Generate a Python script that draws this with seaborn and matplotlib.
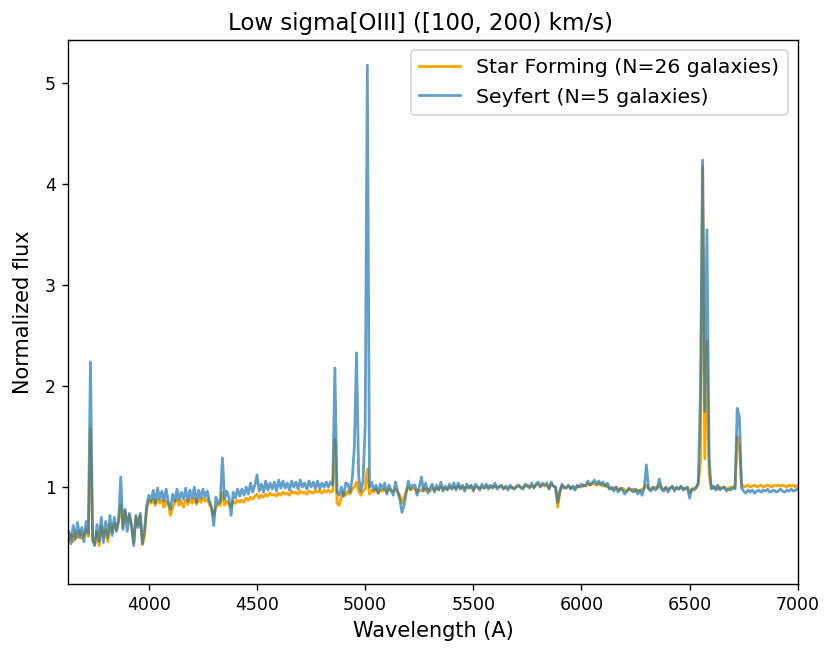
import matplotlib
matplotlib.use("Agg")
import matplotlib.pyplot as plt
import pandas as pd
import seaborn as sns

# Stacked spectra resampled on a 10 Angstrom rest-frame grid
wavelength = list(range(3630, 7001, 10))

# Each row holds ten bins; the comment gives the first wavelength of the row
flux_star_forming = [
    0.48, 0.53, 0.46, 0.55, 0.50, 0.57, 0.49, 0.54, 0.58, 0.51,  # 3630
    1.58, 0.50, 0.44, 0.56, 0.42, 0.62, 0.50, 0.58, 0.46, 0.63,  # 3730
    0.55, 0.64, 0.58, 0.68, 0.82, 0.60, 0.76, 0.66, 0.72, 0.60,  # 3830
    0.45, 0.70, 0.62, 0.72, 0.43, 0.52, 0.78, 0.87, 0.84, 0.88,  # 3930
    0.82, 0.88, 0.84, 0.87, 0.80, 0.86, 0.83, 0.72, 0.80, 0.85,  # 4030
    0.88, 0.82, 0.86, 0.80, 0.87, 0.83, 0.88, 0.84, 0.89, 0.83,  # 4130
    0.88, 0.85, 0.89, 0.86, 0.88, 0.83, 0.78, 0.72, 0.80, 0.83,  # 4230
    0.82, 0.95, 0.82, 0.86, 0.83, 0.80, 0.86, 0.84, 0.87, 0.85,  # 4330
    0.87, 0.85, 0.89, 0.87, 0.90, 0.88, 0.91, 0.93, 0.89, 0.92,  # 4430
    0.90, 0.93, 0.91, 0.94, 0.92, 0.93, 0.91, 0.94, 0.92, 0.95,  # 4530
    0.93, 0.94, 0.92, 0.96, 0.94, 0.95, 0.93, 0.96, 0.94, 0.95,  # 4630
    0.93, 0.96, 0.95, 0.94, 0.97, 0.95, 0.96, 0.94, 0.97, 0.95,  # 4730
    0.97, 0.95, 0.96, 1.47, 0.84, 0.82, 0.90, 0.95, 0.92, 0.96,  # 4830
    0.93, 0.98, 1.00, 1.05, 0.96, 0.92, 0.96, 0.98, 1.18, 0.93,  # 4930
    0.97, 0.95, 0.98, 0.94, 0.97, 0.96, 0.98, 0.95, 0.98, 0.96,  # 5030
    0.96, 0.98, 0.95, 0.92, 0.84, 0.90, 0.96, 1.00, 0.97, 0.99,  # 5130
    0.98, 0.95, 0.97, 0.96, 0.99, 0.97, 0.98, 0.96, 0.99, 0.97,  # 5230
    0.99, 0.98, 1.00, 0.98, 0.99, 0.98, 1.00, 0.99, 1.00, 0.99,  # 5330
    1.01, 0.99, 1.00, 0.98, 1.00, 0.99, 1.01, 0.98, 1.00, 1.00,  # 5430
    0.99, 1.00, 0.99, 1.00, 1.01, 1.00, 1.00, 1.01, 1.00, 1.00,  # 5530
    1.00, 0.99, 1.00, 0.99, 1.00, 1.00, 0.99, 1.00, 1.01, 1.00,  # 5630
    1.00, 1.01, 1.02, 1.00, 1.01, 1.00, 1.02, 1.03, 1.01, 1.02,  # 5730
    1.01, 1.02, 0.99, 1.03, 1.01, 1.00, 0.80, 0.95, 1.01, 1.00,  # 5830
    1.00, 1.01, 0.99, 1.00, 0.99, 1.00, 1.01, 1.00, 1.02, 1.01,  # 5930
    1.03, 1.02, 1.04, 1.03, 1.02, 1.03, 1.04, 1.01, 1.02, 1.00,  # 6030
    0.99, 0.98, 0.99, 1.00, 0.97, 0.98, 0.99, 0.97, 0.96, 0.98,  # 6130
    0.97, 0.98, 0.96, 0.97, 0.96, 0.98, 0.99, 1.02, 0.98, 0.98,  # 6230
    0.99, 1.00, 0.99, 1.02, 0.99, 0.98, 0.99, 0.98, 0.99, 1.00,  # 6330
    0.98, 0.99, 0.98, 1.00, 0.99, 0.98, 0.99, 0.94, 0.98, 0.99,  # 6430
    1.00, 1.02, 1.25, 4.18, 1.28, 2.45, 1.12, 1.00, 0.99, 1.00,  # 6530
    0.98, 1.00, 0.99, 1.00, 0.98, 0.99, 1.00, 0.99, 1.00, 1.50,  # 6630
    1.40, 1.03, 1.00, 1.01, 1.02, 1.00, 1.01, 1.02, 1.00, 1.01,  # 6730
    1.02, 1.00, 1.01, 1.02, 1.01, 1.00, 1.02, 1.01, 1.02, 1.01,  # 6830
    1.02, 1.01, 1.00, 1.02, 1.01, 1.02, 1.00, 1.02,              # 6930
]

flux_seyfert = [
    0.56, 0.44, 0.62, 0.48, 0.65, 0.50, 0.60, 0.46, 0.66, 0.54,  # 3630
    2.24, 0.47, 0.42, 0.63, 0.46, 0.70, 0.45, 0.66, 0.50, 0.72,  # 3730
    0.52, 0.70, 0.56, 0.66, 1.10, 0.58, 0.78, 0.56, 0.74, 0.62,  # 3830
    0.42, 0.72, 0.60, 0.74, 0.44, 0.58, 0.82, 0.92, 0.86, 0.97,  # 3930
    0.84, 0.99, 0.88, 0.96, 0.86, 0.98, 0.85, 0.78, 0.93, 0.86,  # 4030
    0.98, 0.87, 0.95, 0.88, 0.99, 0.86, 0.97, 0.89, 1.00, 0.85,  # 4130
    0.97, 0.89, 0.98, 0.90, 0.96, 0.86, 0.80, 0.62, 0.90, 0.84,  # 4230
    0.86, 1.29, 0.88, 0.96, 0.90, 0.72, 0.95, 0.89, 0.98, 0.91,  # 4330
    0.98, 0.92, 1.00, 0.93, 1.04, 0.95, 1.02, 1.12, 0.96, 1.03,  # 4430
    0.95, 1.06, 0.97, 1.04, 0.98, 1.05, 0.96, 1.07, 0.99, 1.06,  # 4530
    0.99, 1.04, 0.97, 1.06, 1.00, 1.05, 0.98, 1.07, 1.00, 1.04,  # 4630
    0.98, 1.06, 1.00, 1.05, 0.99, 1.06, 0.98, 1.04, 1.00, 1.05,  # 4730
    1.00, 1.05, 1.02, 2.18, 0.95, 0.92, 1.00, 0.91, 1.04, 1.03,  # 4830
    0.95, 1.08, 1.40, 2.33, 1.10, 0.96, 1.06, 1.60, 5.18, 1.00,  # 4930
    1.05, 0.97, 1.02, 0.94, 1.03, 0.98, 1.04, 0.93, 1.02, 0.97,  # 5030
    0.92, 1.05, 0.96, 0.88, 0.75, 0.82, 0.95, 1.06, 0.98, 1.02,  # 5130
    1.02, 0.92, 1.00, 1.10, 0.96, 1.04, 0.94, 0.99, 1.03, 0.95,  # 5230
    1.02, 0.97, 1.05, 0.96, 1.01, 0.97, 1.03, 0.98, 1.04, 0.97,  # 5330
    1.04, 0.98, 1.02, 0.96, 1.03, 0.99, 1.02, 0.96, 1.03, 1.00,  # 5430
    0.97, 1.03, 0.99, 1.03, 0.98, 1.02, 0.99, 1.04, 0.98, 1.01,  # 5530
    1.02, 0.98, 1.01, 0.97, 1.02, 0.99, 0.98, 1.01, 1.02, 0.99,  # 5630
    0.98, 1.03, 1.01, 0.99, 1.04, 0.99, 1.03, 1.05, 1.00, 1.04,  # 5730
    1.02, 1.04, 0.98, 1.05, 1.01, 1.00, 0.85, 0.96, 1.03, 0.99,  # 5830
    0.99, 1.02, 0.98, 1.01, 0.97, 1.02, 1.00, 1.03, 1.01, 1.02,  # 5930
    1.06, 1.02, 1.04, 1.07, 1.03, 1.06, 1.02, 1.05, 1.01, 1.04,  # 6030
    0.98, 1.00, 0.96, 1.00, 0.95, 0.99, 0.97, 0.93, 0.96, 0.99,  # 6130
    0.97, 0.95, 0.98, 0.93, 0.97, 0.92, 0.99, 1.22, 0.99, 0.96,  # 6230
    1.00, 0.97, 0.99, 1.08, 0.98, 0.96, 1.00, 0.95, 0.99, 1.01,  # 6330
    0.96, 1.00, 0.98, 1.01, 0.97, 0.99, 1.00, 0.89, 0.98, 0.97,  # 6430
    0.99, 1.05, 1.93, 4.24, 1.75, 3.55, 1.30, 0.98, 1.01, 0.97,  # 6530
    1.02, 0.97, 0.99, 1.00, 0.96, 0.98, 0.97, 1.00, 0.98, 1.78,  # 6630
    1.70, 0.99, 0.96, 0.94, 0.97, 0.95, 0.97, 0.94, 0.96, 0.97,  # 6730
    0.95, 0.97, 0.96, 0.98, 0.95, 0.96, 0.97, 0.95, 0.96, 0.98,  # 6830
    0.96, 0.95, 0.97, 0.96, 0.98, 0.96, 0.97, 0.98,              # 6930
]

label_star_forming = "Star Forming (N=26 galaxies)"
label_seyfert = "Seyfert (N=5 galaxies)"

spectra = pd.DataFrame({
    "wavelength": wavelength,
    "star_forming": flux_star_forming,
    "seyfert": flux_seyfert,
})

fig = plt.figure(figsize=(6.6, 5.216), dpi=125)
ax = fig.add_subplot(111)
fig.subplots_adjust(left=0.0824, right=0.967, bottom=0.1043, top=0.9387)

sns.lineplot(data=spectra, x="wavelength", y="star_forming", ax=ax,
             color="orange", linewidth=1.6, estimator=None,
             label=label_star_forming)
sns.lineplot(data=spectra, x="wavelength", y="seyfert", ax=ax,
             color="tab:blue", alpha=0.7, linewidth=1.6, estimator=None,
             label=label_seyfert)

ax.set_xlim(3626, 7000)
ax.set_ylim(0.04, 5.43)
ax.tick_params(labelsize=10)
ax.set_xlabel("Wavelength (A)", fontsize=12)
ax.set_ylabel("Normalized flux", fontsize=12, labelpad=7)
ax.set_title("Low sigma[OIII] ([100, 200) km/s)", fontsize=13.2, x=0.483)
ax.legend(loc="upper right", fontsize=11.75)

fig.savefig("out.png", dpi=125)
